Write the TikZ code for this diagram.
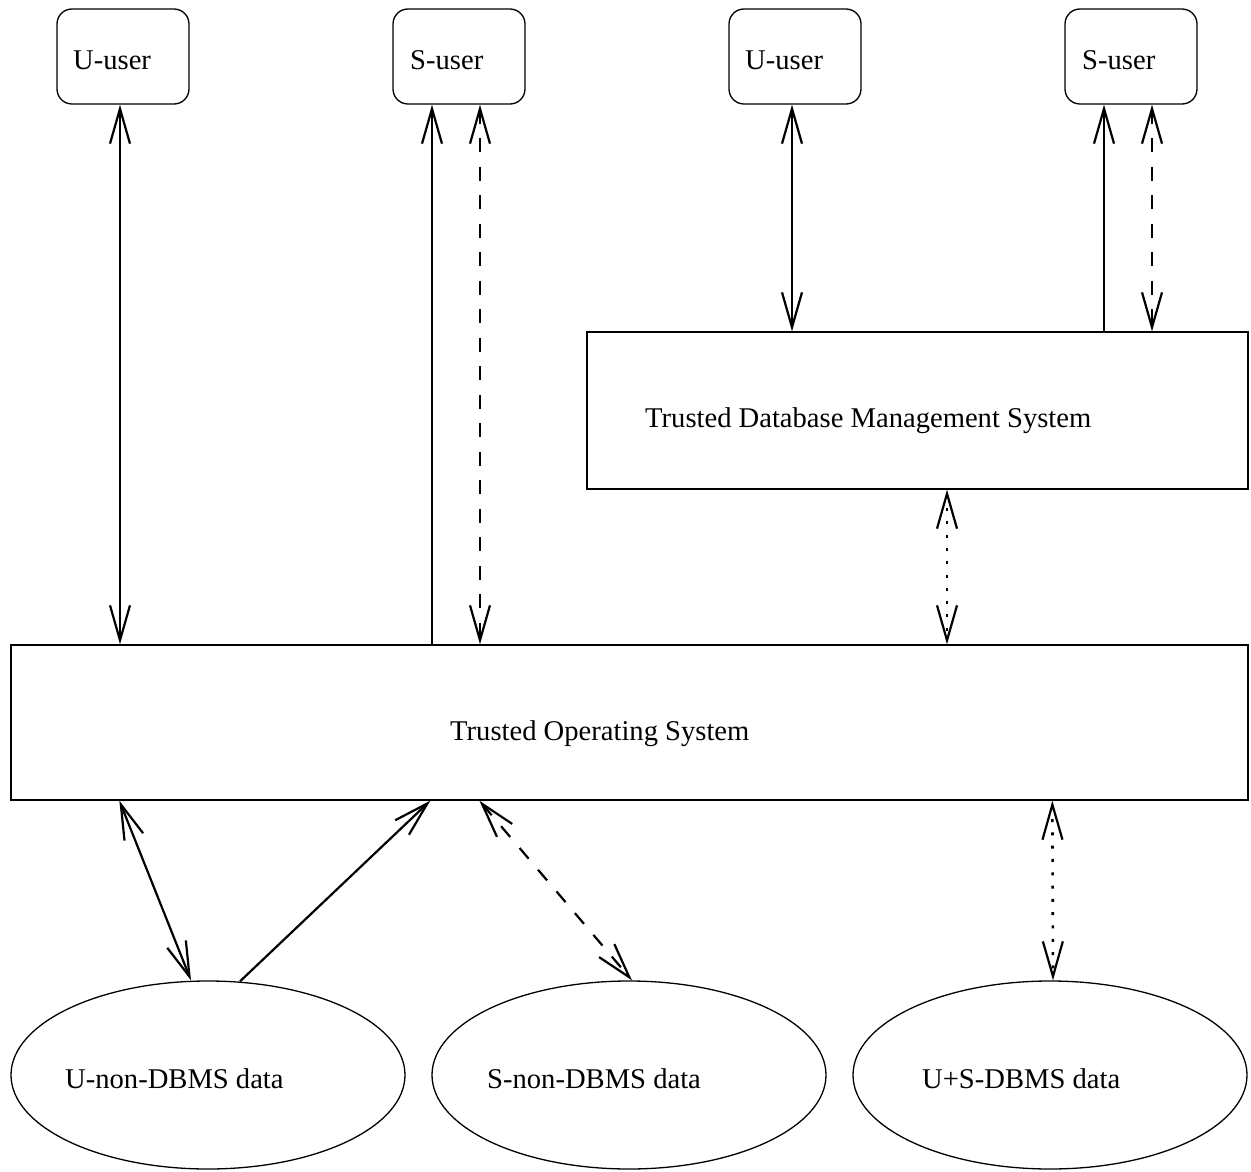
\documentclass[tikz,border=0pt]{standalone}
\usepackage{fontspec}
\setmainfont{Liberation Serif}
\usetikzlibrary{arrows.meta,shapes.geometric,calc}
\begin{document}
\begin{tikzpicture}[x=1pt,y=-1pt,
  userbox/.style={draw,line width=1.3pt,rounded corners=15pt,minimum width=132pt,minimum height=95pt,inner sep=0pt},
  sysbox/.style={draw,line width=1.3pt,inner sep=0pt},
  databox/.style={draw,line width=1.3pt,ellipse,minimum width=394pt,minimum height=188pt,inner sep=0pt},
  lbl/.style={anchor=base west,inner sep=0pt,font=\fontsize{28.6}{34}\selectfont},
  conn/.style={line width=2.2pt,line join=miter},
  tip/.tip={Straight Barb[length=35pt,width=20pt,line width=2.2pt]},
  both/.style={conn,tip-tip},
  totarget/.style={conn,-tip},
  dashedline/.style={dash pattern=on 14pt off 14.5pt},
  dottedline/.style={dash pattern=on 3pt off 10.3pt}]
\useasboundingbox (0,0) rectangle (1251,1172);
% boxes
\node[userbox] (u1) at (123,56.5) {};
\node[userbox] (s1) at (459,56.5) {};
\node[userbox] (u2) at (795,56.5) {};
\node[userbox] (s2) at (1131,56.5) {};
\node[sysbox,minimum width=661pt,minimum height=157pt] (db) at (917.5,410.5) {};
\node[sysbox,minimum width=1237pt,minimum height=155pt] (os) at (629.5,722.5) {};
\node[databox] (e1) at (208,1075) {};
\node[databox] (e2) at (629,1075) {};
\node[databox] (e3) at (1050,1075) {};
% labels
\node[lbl] (tu1) at (73,70) {U-user};
\node[lbl] (ts1) at (410,70) {S-user};
\node[lbl] (tu2) at (745,70) {U-user};
\node[lbl] (ts2) at (1082,70) {S-user};
\node[lbl] (tdb) at (645,427) {Trusted Database Management System};
\node[lbl] (tos) at (450,740) {Trusted Operating System};
\node[lbl] (te1) at (65,1088) {U-non-DBMS data};
\node[lbl] (te2) at (487,1088) {S-non-DBMS data};
\node[lbl] (te3) at (922,1088) {U+S-DBMS data};
% connectors, top half
\draw[both] ($(u1.south)+(-3,0)$) -- ($(u1.south |- os.north)+(-3,0)$);
\draw[totarget] ($(s1.south |- os.north)+(-27,0)$) -- ($(s1.south)+(-27,0)$);
\draw[both,dashedline] ($(s1.south)+(21,0)$) -- ($(s1.south |- os.north)+(21,0)$);
\draw[both] ($(u2.south)+(-3,0)$) -- ($(u2.south |- db.north)+(-3,0)$);
\draw[totarget] ($(s2.south |- db.north)+(-27,0)$) -- ($(s2.south)+(-27,0)$);
\draw[both,dashedline] ($(s2.south)+(21,0)$) -- ($(s2.south |- db.north)+(21,0)$);
\draw[both,dottedline,line width=2.6pt] ($(db.south)+(29.5,0)$) -- ($(db.south |- os.north)+(29.5,0)$);
% connectors, bottom half
\draw[both] ($(os.south west)+(109,0)$) -- ($(e1.north)+(-17,0)$);
\draw[totarget] ($(e1.north)+(32,1)$) -- ($(os.south west)+(420,0)$);
\draw[both,dashedline] ($(os.south west)+(469,0)$) -- ($(e2.north)+(3,0)$);
\draw[both,dottedline,line width=2.6pt] ($(os.south west)+(1042,0)$) -- ($(e3.north)+(3,0)$);
\end{tikzpicture}
\end{document}
